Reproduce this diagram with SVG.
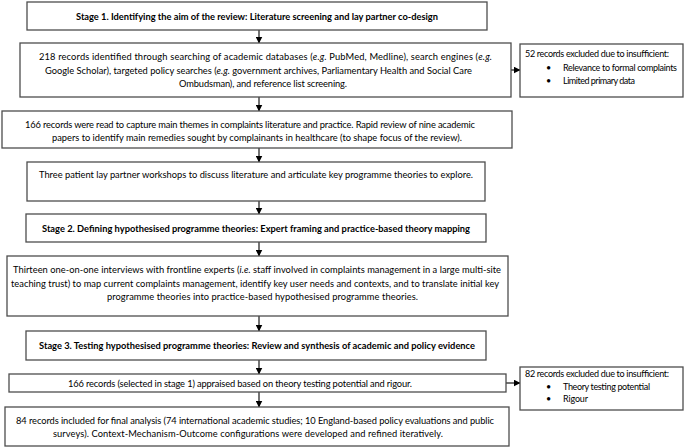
<svg xmlns="http://www.w3.org/2000/svg" width="689" height="448" viewBox="0 0 689 448">
<style>
.box{fill:#fff;stroke:#4d4d4d;stroke-width:1.3}
.t{font-family:Lato,"Open Sans","Liberation Sans",sans-serif;font-size:9.3px;fill:#000}
.b{font-weight:bold}
.s{font-size:9px}
.con line{stroke:#000;stroke-width:1.1}
</style>
<defs>
<marker id="ah" markerUnits="userSpaceOnUse" markerWidth="7" markerHeight="7" refX="6.5" refY="3.5" orient="auto">
<path d="M0,0 L7,3.5 L0,7 z" fill="#000"/>
</marker>
</defs>
<rect width="689" height="448" fill="#fff"/>
<g id="connectors" class="con">
<line x1="259" y1="30" x2="259" y2="43" marker-end="url(#ah)"/>
<line x1="259" y1="97" x2="259" y2="111" marker-end="url(#ah)"/>
<line x1="259" y1="148" x2="259" y2="162" marker-end="url(#ah)"/>
<line x1="259" y1="201" x2="259" y2="214" marker-end="url(#ah)"/>
<line x1="259" y1="242" x2="259" y2="256" marker-end="url(#ah)"/>
<line x1="259" y1="316" x2="259" y2="331" marker-end="url(#ah)"/>
<line x1="259" y1="360" x2="259" y2="374" marker-end="url(#ah)"/>
<line x1="259" y1="392" x2="259" y2="407" marker-end="url(#ah)"/>
<line x1="511" y1="70" x2="520" y2="70" marker-end="url(#ah)"/>
<line x1="506" y1="383" x2="520" y2="383" marker-end="url(#ah)"/>
</g>
<g id="stage1">
<rect class="box" x="27" y="2" width="460" height="28"/>
<text class="t b" x="76" y="19.5" textLength="362">Stage 1. Identifying the aim of the review: Literature screening and lay partner co-design</text>
</g>
<g id="records218">
<rect class="box" x="20" y="43" width="491" height="54"/>
<text class="t" x="39" y="60" textLength="453">218 records identified through searching of academic databases (<tspan font-style="italic">e.g.</tspan> PubMed, Medline), search engines (<tspan font-style="italic">e.g.</tspan></text>
<text class="t" x="45" y="73.5" textLength="427">Google Scholar), targeted policy searches (<tspan font-style="italic">e.g.</tspan> government archives, Parliamentary Health and Social Care</text>
<text class="t" x="179" y="87" textLength="168">Ombudsman), and reference list screening.</text>
</g>
<g id="excluded52">
<rect class="box" x="520" y="44" width="163" height="53"/>
<text class="t s" x="525" y="57" textLength="144">52 records excluded due to insufficient:</text>
<text class="t s" x="546" y="70.5">•</text>
<text class="t s" x="563" y="70.5" textLength="114">Relevance to formal complaints</text>
<text class="t s" x="546" y="84">•</text>
<text class="t s" x="563" y="84" textLength="72">Limited primary data</text>
</g>
<g id="records166read">
<rect class="box" x="2" y="111" width="510" height="37"/>
<text class="t" x="25" y="127.5" textLength="450">166 records were read to capture main themes in complaints literature and practice. Rapid review of nine academic</text>
<text class="t" x="52" y="140.5" textLength="410">papers to identify main remedies sought by complainants in healthcare (to shape focus of the review).</text>
</g>
<g id="workshops">
<rect class="box" x="27" y="162" width="458" height="39"/>
<text class="t" x="39" y="178" textLength="434">Three patient lay partner workshops to discuss literature and articulate key programme theories to explore.</text>
</g>
<g id="stage2">
<rect class="box" x="26" y="214" width="460" height="28"/>
<text class="t b" x="42" y="231.5" textLength="428">Stage 2. Defining hypothesised programme theories: Expert framing and practice-based theory mapping</text>
</g>
<g id="interviews">
<rect class="box" x="7" y="256" width="501" height="60"/>
<text class="t" x="13" y="273" textLength="488">Thirteen one-on-one interviews with frontline experts (<tspan font-style="italic">i.e.</tspan> staff involved in complaints management in a large multi-site</text>
<text class="t" x="11" y="286.5" textLength="488">teaching trust) to map current complaints management, identify key user needs and contexts, and to translate initial key</text>
<text class="t" x="107" y="300" textLength="311">programme theories into practice-based hypothesised programme theories.</text>
</g>
<g id="stage3">
<rect class="box" x="26" y="331" width="460" height="29"/>
<text class="t b" x="39" y="348.5" textLength="436">Stage 3. Testing hypothesised programme theories: Review and synthesis of academic and policy evidence</text>
</g>
<g id="appraised">
<rect class="box" x="9" y="374" width="497" height="18"/>
<text class="t" x="68" y="386.5" textLength="344">166 records (selected in stage 1) appraised based on theory testing potential and rigour.</text>
</g>
<g id="excluded82">
<rect class="box" x="520" y="367" width="163" height="43"/>
<text class="t s" x="525" y="377" textLength="144">82 records excluded due to insufficient:</text>
<text class="t s" x="546" y="389.5">•</text>
<text class="t s" x="563" y="389.5" textLength="87">Theory testing potential</text>
<text class="t s" x="546" y="402">•</text>
<text class="t s" x="563" y="402" textLength="25">Rigour</text>
</g>
<g id="final84">
<rect class="box" x="5" y="407" width="504" height="39"/>
<text class="t" x="16" y="423.5" textLength="478">84 records included for final analysis (74 international academic studies; 10 England-based policy evaluations and public</text>
<text class="t" x="53" y="437" textLength="390">surveys). Context-Mechanism-Outcome configurations were developed and refined iteratively.</text>
</g>
</svg>
